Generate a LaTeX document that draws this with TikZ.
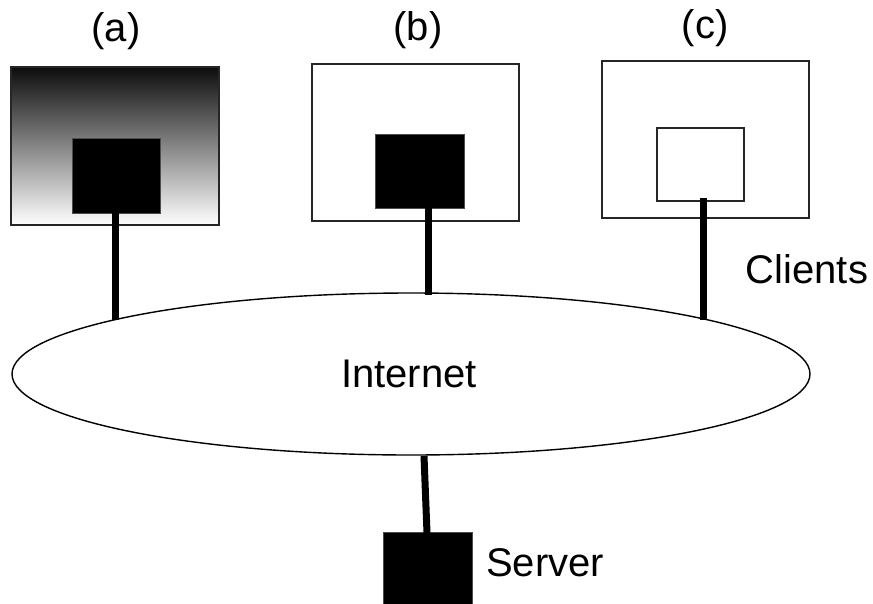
\documentclass[tikz,border=0pt]{standalone}
\usepackage{fontspec}
\setmainfont{Liberation Sans}
\usetikzlibrary{shapes.geometric}
\begin{document}
\begin{tikzpicture}[x=1pt,y=-1pt,
  outerbox/.style={draw=black!85,line width=1.4pt,rectangle,inner sep=0pt},
  innerblack/.style={fill=black,draw=black!70,line width=0.8pt,rectangle,inner sep=0pt},
  innerwhite/.style={fill=white,draw=black!85,line width=1.4pt,rectangle,inner sep=0pt},
  wire/.style={line width=7pt,black},
  lbl/.style={font=\fontsize{40}{48}\selectfont,inner sep=0pt}]
\useasboundingbox (0,0) rectangle (873,603);
% client (a)
\node[outerbox,minimum width=208pt,minimum height=158pt,top color=black!95,bottom color=white] (oa) at (115,146) {};
\node[innerblack,minimum width=88pt,minimum height=75pt] (ia) at (116,175.5) {};
% client (b)
\node[outerbox,minimum width=207pt,minimum height=157pt,fill=white] (ob) at (415.5,142.5) {};
\node[innerblack,minimum width=89pt,minimum height=74pt] (ib) at (419.5,171) {};
% client (c)
\node[outerbox,minimum width=207pt,minimum height=157pt,fill=white] (oc) at (705.5,139.5) {};
\node[innerwhite,minimum width=87pt,minimum height=73pt] (ic) at (700.5,164.5) {};
% internet
\node[ellipse,draw=black,line width=1.4pt,minimum width=798pt,minimum height=162pt,inner sep=0pt] (net) at (411,374) {};
% server
\node[innerblack,minimum width=89pt,minimum height=74pt] (srv) at (427.5,569) {};
% connection points
\coordinate (ta) at (115,213);
\coordinate (ea) at (115,320);
\coordinate (tb) at (428,207);
\coordinate (eb) at (428,295);
\coordinate (tc) at (703,198);
\coordinate (ec) at (703,320);
\coordinate (es) at (424,456);
\coordinate (ts) at (427,533);
\draw[wire] (ta) -- (ea);
\draw[wire] (tb) -- (eb);
\draw[wire] (tc) -- (ec);
\draw[wire] (es) -- (ts);
% labels
\node[lbl] (la) at (116,31) {(a)};
\node[lbl] (lb) at (418,30) {(b)};
\node[lbl] (lc) at (705,28) {(c)};
\node[lbl] (lcl) at (807,269) {Clients};
\node[lbl] (lnet) at (409,374) {Internet};
\node[lbl] (lsrv) at (545,563) {Server};
\end{tikzpicture}
\end{document}
